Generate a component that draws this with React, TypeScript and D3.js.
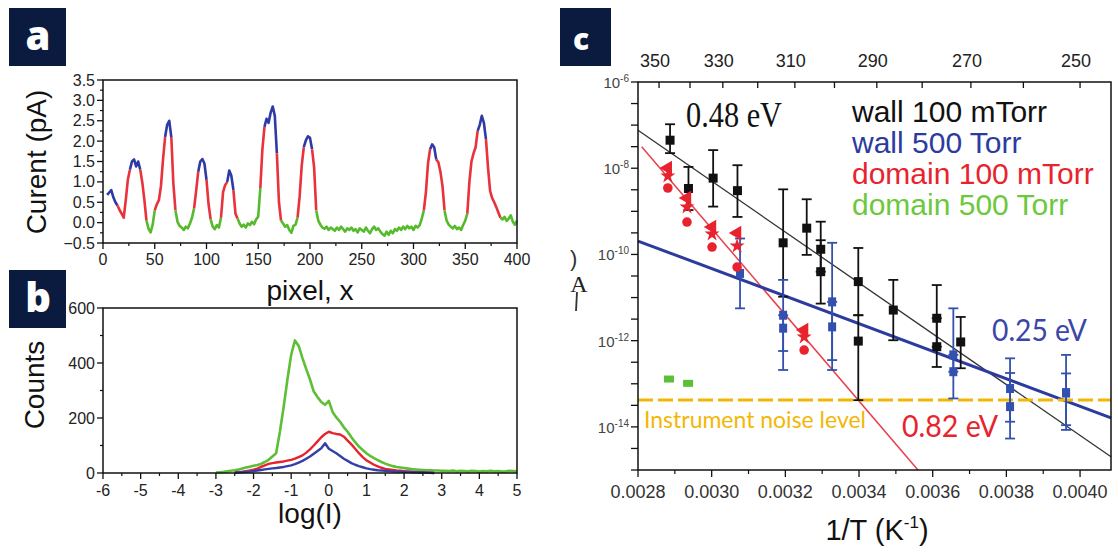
import React from 'react';
import * as d3 from 'd3';

// ---------- panel a: current along a line scan ----------
const scanX0 = 4;
const scanDx = 2;
const scanCurrent = [
  0.68, 0.74, 0.80, 0.62, 0.50, 0.42, 0.31, 0.22, 0.12, 0.55,
  1.05, 1.30, 1.50, 1.55, 1.38, 1.50, 1.30, 0.98, 0.55, 0.05,
  -0.15, -0.24, -0.05, 0.30, 0.45, 0.55, 0.90, 1.55, 2.10, 2.40,
  2.50, 2.10, 0.95, 0.30, 0.02, -0.08, -0.12, -0.18, -0.10, -0.14,
  -0.02, 0.12, 0.35, 0.78, 1.25, 1.50, 1.56, 1.45, 1.05, 0.45,
  0.08, -0.10, -0.16, -0.06, -0.12, 0.12, 0.75, 0.92, 1.00, 1.28,
  1.15, 0.80, 0.22, 0.10, -0.02, -0.10, -0.05, -0.12, -0.02, -0.06,
  0.02, -0.04, 0.08, 0.15, 0.85, 1.80, 2.35, 2.55, 2.45, 2.70,
  2.85, 2.62, 1.70, 0.50, 0.05, -0.02, -0.10, -0.06, -0.18, -0.25,
  -0.08, -0.05, 0.12, 0.65, 1.40, 1.85, 2.02, 2.12, 2.08, 1.80,
  1.35, 0.30, 0.05, -0.05, -0.12, -0.15, -0.10, -0.18, -0.12, -0.16,
  -0.20, -0.12, -0.18, -0.10, -0.16, -0.22, -0.14, -0.18, -0.12, -0.20,
  -0.16, -0.24, -0.14, -0.18, -0.22, -0.12, -0.20, -0.26, -0.16, -0.10,
  -0.18, -0.14, -0.22, -0.28, -0.32, -0.22, -0.30, -0.20, -0.26, -0.16,
  -0.20, -0.12, -0.18, -0.10, -0.16, -0.08, -0.14, -0.10, -0.18, -0.08,
  -0.12, -0.06, 0.10, 0.30, 0.75, 1.45, 1.80, 1.92, 1.85, 1.55,
  1.48, 1.25, 0.90, 0.30, 0.05, -0.05, -0.10, -0.14, -0.08, -0.16,
  -0.12, -0.18, -0.06, 0.05, 0.22, 1.00, 1.50, 1.70, 1.85, 2.25,
  2.40, 2.62, 2.45, 2.05, 1.35, 0.78, 0.60, 0.50, 0.38, 0.25,
  0.12, 0.08, 0.14, 0.04, 0.10, 0.18, 0.02, -0.05, 0.05,
];
// pixel positions where the phase of the scan changes, and the phase of each stretch
const phaseBreaks = [4, 14, 26, 36, 42, 50, 60, 66, 70, 88, 92, 100, 104, 114, 120, 126, 130,
  152, 156, 168, 172, 188, 194, 202, 206, 310, 316, 322, 330, 352, 362, 370, 384, 400];
const phaseKinds = ['b', 'r', 'b', 'r', 'g', 'r', 'b', 'r', 'g', 'r', 'b', 'r', 'g', 'r', 'b', 'r', 'g',
  'r', 'b', 'r', 'g', 'r', 'b', 'r', 'g', 'r', 'b', 'r', 'g', 'r', 'b', 'r', 'g'];

// ---------- panel b: histograms of log(I) ----------
const binDx = 0.1;
const greenStart = -3.0;
const greenCounts = [
  2, 3, 4, 6, 8, 10, 13, 16, 20, 23,
  26, 29, 33, 40, 48, 60, 72, 150, 240, 340,
  430, 482, 462, 418, 378, 340, 296, 276, 258, 248,
  262, 222, 202, 186, 166, 150, 130, 112, 96, 84,
  72, 62, 54, 47, 40, 34, 29, 25, 22, 20,
  18, 16, 14, 13, 12, 11, 10, 10, 9, 9,
  8, 8, 7, 9, 6, 8, 7, 6, 8, 7,
  5, 7, 6, 8, 6, 7, 5, 6, 8, 7, 6,
];
const redStart = -2.5;
const redCounts = [
  2, 4, 5, 7, 9, 12, 16, 22, 28, 33,
  36, 38, 40, 42, 45, 48, 52, 58, 64, 74,
  86, 100, 115, 130, 142, 150, 145, 142, 140, 132,
  118, 104, 88, 72, 58, 46, 38, 30, 24, 19,
  15, 13, 11, 9, 8, 7, 6, 5, 4, 3,
  3, 2, 1, 0,
];
const blueStart = -2.5;
const blueCounts = [
  1, 2, 3, 4, 5, 7, 9, 11, 13, 15,
  17, 18, 20, 22, 25, 28, 32, 38, 44, 52,
  60, 70, 80, 90, 108, 88, 80, 72, 62, 52,
  44, 36, 30, 25, 21, 17, 14, 12, 10, 9,
  8, 7, 6, 5, 5, 4, 4, 3, 3, 2,
  2, 1, 1, 0,
];

// ---------- panel c: Arrhenius plot ----------
const tempTicks = [350, 340, 330, 320, 310, 300, 290, 280, 270, 260, 250];
const tempLabels = [350, 330, 310, 290, 270, 250];
const invTLabels = [0.0028, 0.0030, 0.0032, 0.0034, 0.0036, 0.0038, 0.0040];
const invTMinor = [0.0029, 0.0031, 0.0033, 0.0035, 0.0037, 0.0039];
const decadeLabels = [-6, -8, -10, -12, -14];

// wall, 100 mTorr (log10 of current)
const wallLowInvT = [0.002887, 0.002937, 0.003004, 0.00307, 0.003194, 0.003258, 0.003296, 0.003296,
  0.003398, 0.003398, 0.003493, 0.003611, 0.003611, 0.003676];
const wallLowLog = [-7.35, -8.47, -8.23, -8.52, -9.73, -9.39, -9.88, -10.40, -10.63, -12.01, -11.29, -11.48, -12.14, -12.03];
const wallLowHi = [-6.98, -7.97, -7.58, -7.93, -8.49, -8.72, -9.24, -9.67, -9.85, -11.41, -10.59, -10.71, -11.48, -11.45];
const wallLowLo = [-7.65, -8.97, -8.89, -9.13, -10.98, -10.01, -10.40, -11.14, -11.41, -13.38, -11.99, -12.14, -12.61, -12.64];

// wall, 500 Torr
const wallHighInvT = [0.003077, 0.003194, 0.003194, 0.003327, 0.003327, 0.003656, 0.003656, 0.00381, 0.00381, 0.003962, 0.003962];
const wallHighLog = [-10.44, -11.41, -11.71, -11.10, -11.68, -12.33, -12.72, -13.11, -13.53, -13.21, -13.21];
const wallHighHi = [-9.63, -10.59, -11.41, -9.73, -11.10, -11.25, -12.33, -12.41, -12.75, -12.33, -12.76];
const wallHighLo = [-11.25, -12.24, -12.68, -12.45, -12.68, -12.72, -13.34, -13.88, -14.27, -13.96, -14.07];

// domain, 100 mTorr: three repeated measurements per temperature
const domLowInvT = [0.002881, 0.002933, 0.003001, 0.003069, 0.003251];
const domLowTri = [-7.995, -8.691, -9.364, -9.503, -11.754];
const domLowStar = [-8.181, -8.900, -9.527, -9.805, -11.916];
const domLowCirc = [-8.459, -9.248, -9.828, -10.292, -12.218];

// domain, 500 Torr
const domHighInvT = [0.002884, 0.002936];
const domHighLog = [-12.89, -12.99];

// straight-line fits, end points as [1/T, log10 I]
const fitWallLow = [[0.0028, -7.121], [0.004084, -14.694]];
const fitDomLow = [[0.00281, -7.50], [0.00356, -15.0]];
const fitWallHigh = [[0.0028, -9.689], [0.004084, -13.793]];
const noiseLog = -13.378;

const legendNames = ['wall 100 mTorr', 'wall 500 Torr', 'domain 100 mTorr', 'domain 500 Torr'];

const SANS = "'Liberation Sans', Arial, Helvetica, sans-serif";
const BLACK = '#111';
const BLUE = '#2c3b9e';
const BLUE_PT = '#3350ae';
const RED = '#e8232d';
const GREEN = '#5cbf35';
const ORANGE = '#f2b705';
const TAG = '#0b1b40';
const phaseColor: Record<string, string> = { b: '#2f3aa6', r: '#e8323c', g: '#55bb2c' };

function Tag({ x, y, w, h, letter, lx, ly, size }: any) {
  return (
    <g>
      <rect x={x} y={y} width={w} height={h} fill={TAG} />
      <text x={lx} y={ly} textAnchor="middle" fill="#fff" fontFamily="'Open Sans', 'DejaVu Sans', sans-serif"
        fontWeight={800} fontSize={size}>{letter}</text>
    </g>
  );
}

export default function App() {
  const xa = d3.scaleLinear().domain([0, 400]).range([103, 517]);
  const ya = d3.scaleLinear().domain([-0.5, 3.5]).range([243, 80]);
  const xb = d3.scaleLinear().domain([-6, 5]).range([103, 517]);
  const yb = d3.scaleLinear().domain([0, 600]).range([473, 308]);
  const xc = d3.scaleLinear().domain([0.0028, 0.004084]).range([638, 1111]);
  const yc = d3.scaleLog().domain([1e-15, 1e-6]).range([470, 82]);
  const p10 = (e: number) => Math.pow(10, e);

  // panel a
  const scanPts = scanCurrent.map((v, i) => ({ x: scanX0 + i * scanDx, v }));
  const scanLine = d3.line<any>().x((d) => xa(d.x)).y((d) => ya(d.v));
  const segs = phaseKinds.map((k, i) => ({
    k,
    pts: scanPts.filter((p) => p.x >= phaseBreaks[i] && p.x <= phaseBreaks[i + 1]),
  }));
  const aYMajor = d3.range(9).map((i) => -0.5 + i * 0.5);
  const aYMinor = d3.range(8).map((i) => -0.25 + i * 0.5);
  const aXMajor = d3.range(9).map((i) => i * 50);
  const aXMinor = d3.range(8).map((i) => 25 + i * 50);

  // panel b
  const histLine = d3.line<any>().x((d) => xb(d.x)).y((d) => yb(d.c));
  const toPts = (start: number, arr: number[]) => arr.map((c, i) => ({ x: start + i * binDx, c }));
  const bYMajor = [0, 200, 400, 600];
  const bYMinor = [100, 300, 500];
  const bXMajor = d3.range(-6, 6);
  const bXMinor = d3.range(11).map((i) => -5.5 + i);

  // panel c
  const cLeftTicks = d3.range(19).map((i) => -6 - i * 0.5);
  const fitPath = (f: number[][]) => d3.line<any>().x((d) => xc(d[0])).y((d) => yc(p10(d[1])))(f) as string;
  const tri = d3.symbol().type(d3.symbolTriangle).size(90)() as string;
  const star = d3.symbol().type(d3.symbolStar).size(70)() as string;
  const fmt4 = d3.format('.4f');

  const errBar = (x: number, hi: number, lo: number, color: string, key: string, cap = 5) => {
    const X = xc(x), Y1 = yc(p10(hi)), Y2 = yc(p10(lo));
    return (
      <g key={key} stroke={color} strokeWidth={1.8}>
        <line x1={X} x2={X} y1={Y1} y2={Y2} />
        <line x1={X - cap} x2={X + cap} y1={Y1} y2={Y1} />
        <line x1={X - cap} x2={X + cap} y1={Y2} y2={Y2} />
      </g>
    );
  };

  return (
    <svg width={1118} height={554} viewBox="0 0 1118 554"
      style={{ position: 'absolute', left: 0, top: 0, background: '#fff' }} fontFamily={SANS}>
      <rect x={0} y={0} width={1118} height={554} fill="#fff" />

      {/* ===== panel a ===== */}
      <g>
        {segs.map((s, i) => (
          <path key={i} d={scanLine(s.pts) as string} fill="none" stroke={phaseColor[s.k]} strokeWidth={2.6}
            strokeLinejoin="round" />
        ))}
        <rect x={103} y={80} width={414} height={163} fill="none" stroke="#111" strokeWidth={1.5} />
        {aYMajor.map((v) => (
          <g key={v}>
            <line x1={97} x2={103} y1={ya(v)} y2={ya(v)} stroke="#111" strokeWidth={1.3} />
            <text x={95} y={ya(v) + 5.5} textAnchor="end" fontSize={16} fill="#222">{d3.format('.1f')(v)}</text>
          </g>
        ))}
        {aYMinor.map((v) => (
          <line key={v} x1={100} x2={103} y1={ya(v)} y2={ya(v)} stroke="#111" strokeWidth={1.2} />
        ))}
        {aXMajor.map((v) => (
          <g key={v}>
            <line x1={xa(v)} x2={xa(v)} y1={243} y2={249} stroke="#111" strokeWidth={1.3} />
            <text x={xa(v)} y={265} textAnchor="middle" fontSize={16} fill="#222">{v}</text>
          </g>
        ))}
        {aXMinor.map((v) => (
          <line key={v} x1={xa(v)} x2={xa(v)} y1={243} y2={246} stroke="#111" strokeWidth={1.2} />
        ))}
        <text transform="translate(46,162) rotate(-90)" textAnchor="middle" fontSize={28} fill="#111">Curent (pA)</text>
        <text x={310} y={300} textAnchor="middle" fontSize={28} fill="#111">pixel, x</text>
      </g>

      {/* ===== panel b ===== */}
      <g>
        <path d={histLine(toPts(greenStart, greenCounts)) as string} fill="none" stroke={GREEN} strokeWidth={2.6} strokeLinejoin="round" />
        <path d={histLine(toPts(redStart, redCounts)) as string} fill="none" stroke={RED} strokeWidth={2.4} strokeLinejoin="round" />
        <path d={histLine(toPts(blueStart, blueCounts)) as string} fill="none" stroke="#3340a8" strokeWidth={2.4} strokeLinejoin="round" />
        <rect x={103} y={308} width={414} height={165} fill="none" stroke="#111" strokeWidth={1.5} />
        {bYMajor.map((v) => (
          <g key={v}>
            <line x1={97} x2={103} y1={yb(v)} y2={yb(v)} stroke="#111" strokeWidth={1.3} />
            <text x={95} y={yb(v) + 5.5} textAnchor="end" fontSize={16} fill="#222">{v}</text>
          </g>
        ))}
        {bYMinor.map((v) => (
          <line key={v} x1={100} x2={103} y1={yb(v)} y2={yb(v)} stroke="#111" strokeWidth={1.2} />
        ))}
        {bXMajor.map((v) => (
          <g key={v}>
            <line x1={xb(v)} x2={xb(v)} y1={473} y2={479} stroke="#111" strokeWidth={1.3} />
            <text x={xb(v)} y={496} textAnchor="middle" fontSize={16} fill="#222">{v}</text>
          </g>
        ))}
        {bXMinor.map((v) => (
          <line key={v} x1={xb(v)} x2={xb(v)} y1={473} y2={476} stroke="#111" strokeWidth={1.2} />
        ))}
        <text transform="translate(44,385) rotate(-90)" textAnchor="middle" fontSize={28} fill="#111">Counts</text>
        <text x={310} y={523} textAnchor="middle" fontSize={28} fill="#111">log(I)</text>
      </g>

      {/* ===== panel c ===== */}
      <g>
        <path d={fitPath(fitWallLow)} fill="none" stroke="#333" strokeWidth={1.3} />
        <path d={fitPath(fitDomLow)} fill="none" stroke="#e8404a" strokeWidth={1.5} />
        <path d={fitPath(fitWallHigh)} fill="none" stroke={BLUE} strokeWidth={3} />
        <line x1={638} x2={1111} y1={yc(p10(noiseLog))} y2={yc(p10(noiseLog))} stroke={ORANGE}
          strokeWidth={3} strokeDasharray="15 5" />

        {/* wall 100 mTorr */}
        {wallLowInvT.map((x, i) => errBar(x, wallLowHi[i], wallLowLo[i], BLACK, 'kb' + i))}
        {wallLowInvT.map((x, i) => (
          <rect key={'k' + i} x={xc(x) - 4.5} y={yc(p10(wallLowLog[i])) - 4.5} width={9} height={9} fill={BLACK} />
        ))}

        {/* wall 500 Torr */}
        {wallHighInvT.map((x, i) => errBar(x, wallHighHi[i], wallHighLo[i], BLUE_PT, 'bb' + i))}
        {wallHighInvT.map((x, i) => (
          <rect key={'b' + i} x={xc(x) - 4} y={yc(p10(wallHighLog[i])) - 4.5} width={8} height={9} fill={BLUE_PT} />
        ))}

        {/* domain 100 mTorr */}
        {domLowInvT.map((x, i) => (
          <g key={'r' + i} fill={RED}>
            <path d={tri} transform={`translate(${xc(x)},${yc(p10(domLowTri[i]))}) rotate(-90)`} />
            <path d={star} transform={`translate(${xc(x)},${yc(p10(domLowStar[i]))})`} />
            <circle cx={xc(x)} cy={yc(p10(domLowCirc[i]))} r={4.8} />
          </g>
        ))}

        {/* domain 500 Torr */}
        {domHighInvT.map((x, i) => (
          <rect key={'g' + i} x={xc(x) - 5} y={yc(p10(domHighLog[i])) - 3.5} width={10} height={7} fill={GREEN} />
        ))}

        {/* frame and axes */}
        <rect x={638} y={82} width={473} height={388} fill="none" stroke="#111" strokeWidth={1.5} />
        {cLeftTicks.map((e) => (
          <line key={e} x1={631} x2={638} y1={yc(p10(e))} y2={yc(p10(e))} stroke="#111" strokeWidth={1.3} />
        ))}
        {decadeLabels.map((e) => (
          <text key={e} x={629} y={yc(p10(e)) + 6} textAnchor="end" fontSize={15} fill="#444">
            10<tspan fontSize={10} dy={-6}>{e}</tspan>
          </text>
        ))}
        {invTLabels.map((v) => (
          <g key={v}>
            <line x1={xc(v)} x2={xc(v)} y1={470} y2={477} stroke="#111" strokeWidth={1.3} />
            <text x={xc(v)} y={498} textAnchor="middle" fontSize={18} fill="#333">{fmt4(v)}</text>
          </g>
        ))}
        {invTMinor.map((v) => (
          <line key={v} x1={xc(v)} x2={xc(v)} y1={470} y2={474} stroke="#111" strokeWidth={1.2} />
        ))}
        {tempTicks.map((t) => (
          <line key={t} x1={xc(1 / t)} x2={xc(1 / t)} y1={82} y2={88} stroke="#111" strokeWidth={1.3} />
        ))}
        {tempLabels.map((t) => (
          <text key={t} x={xc(1 / t) - 4} y={67} textAnchor="middle" fontSize={18} fill="#222">{t}</text>
        ))}
        <text x={877} y={540} textAnchor="middle" fontSize={29} fill="#111">
          1/T (K<tspan fontSize={17} dy={-12}>-1</tspan><tspan dy={12}>)</tspan>
        </text>

        {/* partial axis title */}
        <text x={570} y={266} fontSize={22} fill="#333">)</text>
        <text x={579} y={292} textAnchor="middle" fontSize={24} fill="#222" fontFamily="'Liberation Serif', serif">A</text>
        <line x1={577} x2={576} y1={292} y2={311} stroke="#333" strokeWidth={1.8} />

        {/* annotations */}
        <text x={686} y={127} fontSize={36} fill={BLACK} fontFamily="'Liberation Serif', 'Times New Roman', serif"
          textLength={96} lengthAdjust="spacingAndGlyphs">0.48 eV</text>
        {legendNames.map((n, i) => (
          <text key={n} x={852} y={122 + i * 31} fontSize={30} fill={[BLACK, BLUE, RED, '#6cc83c'][i]}>{n}</text>
        ))}
        <text x={992} y={341} fontSize={31} fill="#3a46a8" fontFamily="Lato, 'Open Sans', sans-serif"
          textLength={95} lengthAdjust="spacingAndGlyphs">0.25 eV</text>
        <text x={902} y={437} fontSize={31} fill={RED} fontFamily="Lato, 'Open Sans', sans-serif"
          textLength={96} lengthAdjust="spacingAndGlyphs">0.82 eV</text>
        <text x={644} y={428} fontSize={24} fill={ORANGE} fontFamily="Lato, 'Open Sans', sans-serif"
          textLength={222} lengthAdjust="spacingAndGlyphs">Instrument noise level</text>
      </g>

      {/* panel tags (drawn last, they cover the edge of nearby labels) */}
      <Tag x={9} y={8} w={57} h={58} letter="a" lx={38} ly={50} size={40} />
      <Tag x={9} y={270} w={57} h={58} letter="b" lx={38} ly={312} size={40} />
      <Tag x={560} y={8} w={51} h={58} letter="c" lx={581} ly={50} size={30} />
    </svg>
  );
}
